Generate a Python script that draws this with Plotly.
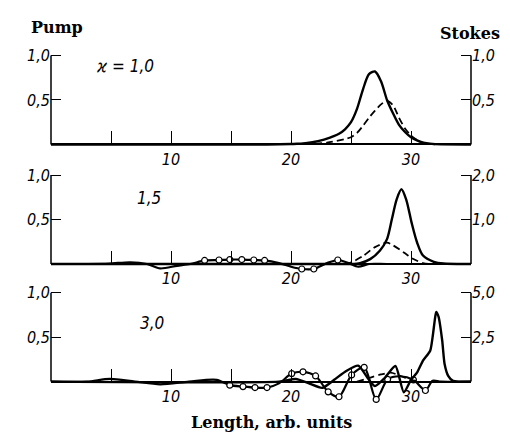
import plotly.graph_objects as go

# ---------------- data ----------------
# Panel 1 (kappa = 1,0)
p1_solid_x = [0, 18, 20, 20.5, 21, 21.5, 22, 22.5, 23, 23.5, 24, 24.5, 25, 25.5, 26, 26.5, 27, 27.5,
              28, 28.5, 29, 29.5, 30, 30.5, 31, 31.5, 32, 35]
p1_solid_y = [0, 0, 0.005, 0.008, 0.012, 0.02, 0.03, 0.045, 0.065, 0.09, 0.12, 0.17, 0.25, 0.40, 0.62, 0.79, 0.82, 0.71,
              0.50, 0.35, 0.22, 0.14, 0.08, 0.045, 0.02, 0.01, 0.003, 0]
p1_dash_x = [22, 23, 24, 24.5, 25, 25.5, 26, 26.5, 27, 27.5, 28, 28.5, 29, 29.5, 30, 30.5, 31, 31.5, 32]
p1_dash_y = [0.005, 0.02, 0.045, 0.06, 0.08, 0.13, 0.21, 0.30, 0.38, 0.45, 0.49, 0.44, 0.30, 0.18, 0.10, 0.05, 0.02, 0.005, 0]

# Panel 2 (1,5)
p2_solid_x = [0, 24, 25.0, 25.75, 26.6, 27.4, 28.0, 28.4, 28.8, 29.2, 29.6, 30.05, 30.5, 31.0, 31.9, 32.7, 35]
p2_solid_y = [0, 0, 0, 0.02, 0.11, 0.30, 0.56, 1.0, 1.45, 1.68, 1.45, 0.93, 0.49, 0.19, 0.05, 0.01, 0]
p2_dash_x = [24.5, 25.05, 26.0, 27.0, 28.0, 28.5, 29.4, 30.2, 31.0, 31.5]
p2_dash_y = [0, 0.02, 0.09, 0.19, 0.24, 0.21, 0.13, 0.056, 0.01, 0]
p2_circ_x = [0, 3, 4.9, 6.6, 8, 9.1, 10.5, 11.6, 12.8, 14.0, 14.9, 15.9, 16.9, 17.8, 19.0, 20.0,
             20.9, 21.9, 23.0, 23.9, 24.8, 25.6, 26.5, 28, 35]
p2_circ_y = [0, 0, 0.005, 0.02, 0.0, -0.05, -0.02, 0, 0.04, 0.045, 0.05, 0.05, 0.045, 0.04, 0.01, -0.03,
             -0.056, -0.056, 0.01, 0.045, 0.01, -0.03, 0, 0, 0]
p2_circ_mark = [0, 0, 0, 0, 0, 0, 0, 0, 1, 1, 1, 1, 1, 1, 0, 0,
                1, 1, 0, 1, 0, 0, 0, 0, 0]

# Panel 3 (3,0)
p3_solid_x = [0, 19, 20.4, 21.5, 22.6, 23.6, 24.6, 25.6, 26.5, 27.0, 27.8, 28.7, 29.4, 30.0, 30.5, 31.0,
              31.6, 31.8, 32.0, 32.1, 32.3, 32.6, 32.8, 33.1, 33.5, 34, 35]
p3_solid_y = [0, 0, 0.15, -0.1, -0.35, 0.1, 0.6, 0.9, 0.1, -0.25, 0.2, 0.875, -0.6, 0.1, 0.5, 1.18,
              1.74, 2.5, 3.55, 3.92, 3.64, 2.31, 0.99, 0.32, 0.04, 0, 0]
p3_dash_x = [25.5, 26.5, 27.5, 28.3, 29.2, 30.0, 30.8]
p3_dash_y = [0, 0.04, 0.08, 0.1, 0.06, 0.02, 0]
p3_circ_x = [0, 3, 4.9, 7, 9.1, 11.5, 13.8, 14.9, 16.0, 17.0, 18.0, 19.0, 20.06, 21.0, 22.05, 23.1, 24.0,
             25.05, 26.1, 27.1, 28.05, 29.1, 30.2, 31.2, 31.8, 32.5, 35]
p3_circ_y = [0, 0, 0.03, 0, -0.03, 0, 0.02, -0.04, -0.056, -0.067, -0.067, -0.02, 0.09, 0.11, 0.064, -0.115, -0.17,
             0.075, 0.16, -0.2, 0.026, 0.06, 0.02, -0.1, 0.01, 0, 0]
p3_circ_mark = [0, 0, 0, 0, 0, 0, 0, 1, 1, 1, 1, 0, 1, 1, 1, 1, 1,
                1, 1, 1, 1, 0, 1, 1, 0, 0, 0]

x_tickvals = [5, 10, 15, 20, 25, 30]
x_ticktext = ["", "10", "", "20", "", "30"]
left_tickvals = [0.5, 1.0]
left_ticktext = ["0,5", "1,0"]
right_tickvals = [[0.5, 1.0], [1.0, 2.0], [2.5, 5.0]]
right_ticktext = [["0,5", "1,0"], ["1,0", "2,0"], ["2,5", "5,0"]]
right_max = [1.0, 2.0, 5.0]
panel_labels = ["ϰ = 1,0", "1,5", "3,0"]

# ---------------- layout geometry (pixels in the 510x433 window) ----------------
OFF = 8                      # default page body margin
W, H = 510 - OFF, 433 - OFF  # figure size so that it fits the window
def fx(px):
    return (px - OFF) / W
def fy(py):
    return 1 - (py - OFF) / H

x_left_px, x_right_px = 51, 471
baselines = [141, 262, 381]
unit_px = 90
lo, hi = -0.25, 1.05

tickfont = dict(family="DejaVu Sans Condensed, Liberation Sans Narrow, DejaVu Sans", size=16,
                color="black", style="italic")
titlefont = dict(family="DejaVu Serif, Liberation Serif", size=16, color="black", weight="bold")

fig = go.Figure()

def add_line(x, y, xa, ya, dash=None, width=2.4, smoothing=0.8):
    fig.add_trace(go.Scatter(x=x, y=y, xaxis=xa, yaxis=ya, mode="lines",
                             line=dict(color="black", width=width, dash=dash, shape="spline",
                                       smoothing=smoothing),
                             showlegend=False, hoverinfo="skip"))

def add_circ(x, y, mark, xa, ya):
    fig.add_trace(go.Scatter(x=x, y=y, xaxis=xa, yaxis=ya, mode="lines",
                             line=dict(color="black", width=2.2, shape="spline", smoothing=0.8),
                             showlegend=False, hoverinfo="skip"))
    mx = [a for a, m in zip(x, mark) if m]
    my = [b for b, m in zip(y, mark) if m]
    fig.add_trace(go.Scatter(x=mx, y=my, xaxis=xa, yaxis=ya, mode="markers",
                             marker=dict(size=6, color="white", line=dict(color="black", width=1.2)),
                             showlegend=False, hoverinfo="skip"))

# panel 1
add_line(p1_solid_x, p1_solid_y, "x", "y2")
add_line(p1_dash_x, p1_dash_y, "x", "y", dash="7px,4px", width=1.8)
# panel 2
add_circ(p2_circ_x, p2_circ_y, p2_circ_mark, "x2", "y3")
add_line(p2_dash_x, p2_dash_y, "x2", "y3", dash="7px,4px", width=1.8)
add_line(p2_solid_x, p2_solid_y, "x2", "y4")
# panel 3
add_circ(p3_circ_x, p3_circ_y, p3_circ_mark, "x3", "y5")
add_line(p3_dash_x, p3_dash_y, "x3", "y5", dash="7px,4px", width=1.8)
add_line(p3_solid_x, p3_solid_y, "x3", "y6", smoothing=0.6)

xdom = [fx(x_left_px), fx(x_right_px)]
layout = dict(width=W, height=H, margin=dict(l=0, r=0, t=0, b=0),
              paper_bgcolor="white", plot_bgcolor="rgba(0,0,0,0)", showlegend=False)
shapes = []
annotations = []
for i, base in enumerate(baselines):
    xname = "xaxis" if i == 0 else f"xaxis{i+1}"
    xid = "x" if i == 0 else f"x{i+1}"
    yl = 2 * i + 1
    yr = 2 * i + 2
    ylname = "yaxis" if yl == 1 else f"yaxis{yl}"
    ylid = "y" if yl == 1 else f"y{yl}"
    yrname = f"yaxis{yr}"
    top_px = base - hi * unit_px
    bot_px = base - lo * unit_px
    ydom = [fy(bot_px), fy(top_px)]
    layout[xname] = dict(domain=xdom, range=[0, 35], anchor="free", position=fy(base),
                         showline=True, linecolor="black", linewidth=2, showgrid=False, zeroline=False,
                         ticks="inside", ticklen=12, tickwidth=1.2, tickcolor="black",
                         tickvals=x_tickvals, ticktext=x_ticktext, tickfont=tickfont, fixedrange=True)
    layout[ylname] = dict(domain=ydom, range=[lo, hi], anchor=xid, showline=False, showgrid=False,
                          zeroline=False, ticks="inside", ticklen=10, tickwidth=1.2, tickcolor="black",
                          tickvals=left_tickvals, ticktext=left_ticktext, tickfont=tickfont)
    k = right_max[i]
    layout[yrname] = dict(overlaying=ylid, side="right", anchor=xid, range=[lo * k, hi * k],
                          showline=False, showgrid=False, zeroline=False, ticks="inside", ticklen=10,
                          tickwidth=1.2, tickcolor="black", tickvals=right_tickvals[i],
                          ticktext=right_ticktext[i], tickfont=tickfont)
    for xd in (0, 1):
        shapes.append(dict(type="line", xref=f"{xid} domain", yref=ylid, x0=xd, x1=xd, y0=0, y1=1,
                           line=dict(color="black", width=1.5), layer="above"))

label_pos = [(125, 62), (149, 195), (152, 322)]
for txt, (px, py) in zip(panel_labels, label_pos):
    annotations.append(dict(text=txt, x=fx(px), y=fy(py), xref="paper", yref="paper",
                            showarrow=False, font=dict(tickfont, size=17), xanchor="center", yanchor="middle"))
annotations.append(dict(text="Pump", x=fx(57), y=fy(23), xref="paper", yref="paper", showarrow=False,
                        font=titlefont, xanchor="center", yanchor="middle"))
annotations.append(dict(text="Stokes", x=fx(470), y=fy(29), xref="paper", yref="paper", showarrow=False,
                        font=titlefont, xanchor="center", yanchor="middle"))
annotations.append(dict(text="Length, arb. units", x=fx(271), y=fy(422), xref="paper", yref="paper",
                        showarrow=False, font=titlefont, xanchor="center", yanchor="middle"))
layout["shapes"] = shapes
layout["annotations"] = annotations
fig.update_layout(**layout)
fig.write_html("out.html")
